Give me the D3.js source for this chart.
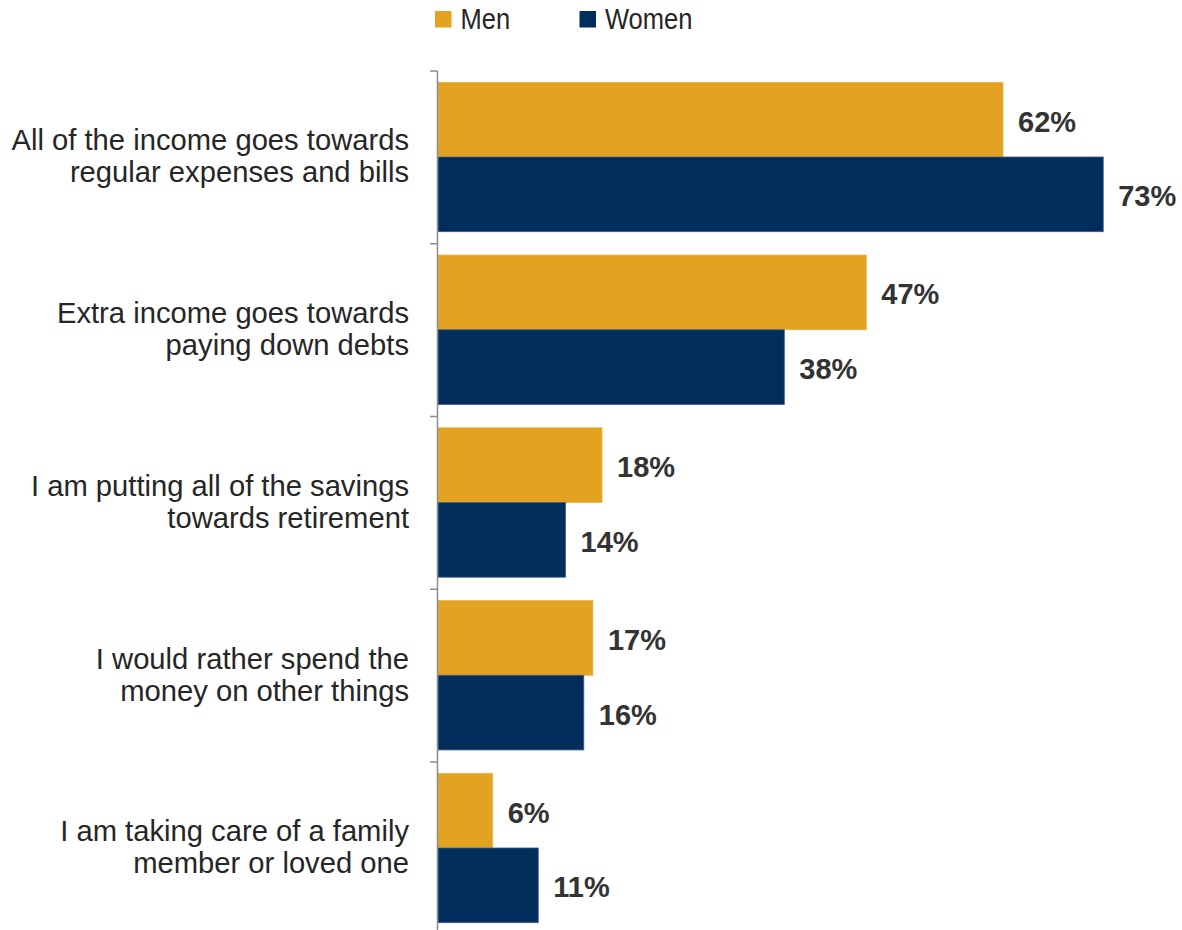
<!DOCTYPE html>
<html>
<head>
<meta charset="utf-8">
<script src="https://cdn.jsdelivr.net/npm/d3@7"></script>
<style>
  html, body { margin: 0; padding: 0; background: #fff; }
  svg { display: block; font-family: "Liberation Sans", Arial, sans-serif; }
</style>
</head>
<body>
<svg id="chart" width="1182" height="930"></svg>
<script>
const categories = [
  ["All of the income goes towards", "regular expenses and bills"],
  ["Extra income goes towards", "paying down debts"],
  ["I am putting all of the savings", "towards retirement"],
  ["I would rather spend the", "money on other things"],
  ["I am taking care of a family", "member or loved one"]
];
const seriesNames = ["Men", "Women"];
const menValues = [62, 47, 18, 17, 6];
const womenValues = [73, 38, 14, 16, 11];
const colors = ["#E3A21F", "#002D5C"];
const strokes = ["#E9B44A", "#3E5E84"];

const svg = d3.select("#chart");
const catKeys = categories.map((c, i) => i);
const x = d3.scaleLinear().domain([0, 80]).range([438, 438 + 80 * 9.113]);
const y = d3.scaleBand().domain(catKeys).range([71, 934.75]).padding(0);
const inner = d3.scaleBand().domain(seriesNames).range([11.3, 160.7]).padding(0);

const data = catKeys.map(i => ({
  cat: i,
  vals: [
    { s: "Men", v: menValues[i], k: 0 },
    { s: "Women", v: womenValues[i], k: 1 }
  ]
}));

// bars
const groups = svg.append("g").selectAll("g").data(data).join("g")
  .attr("transform", d => `translate(0,${y(d.cat)})`);

groups.selectAll("rect").data(d => d.vals).join("rect")
  .attr("x", x(0))
  .attr("y", d => inner(d.s))
  .attr("width", d => x(d.v) - x(0))
  .attr("height", inner.bandwidth())
  .attr("fill", d => colors[d.k])
  .attr("stroke", d => strokes[d.k])
  .attr("stroke-width", 0.8);

groups.selectAll("text.val").data(d => d.vals).join("text")
  .attr("class", "val")
  .attr("x", d => x(d.v) + 15)
  .attr("y", d => inner(d.s) + inner.bandwidth() / 2 + 12)
  .attr("font-size", 29)
  .attr("font-weight", "bold")
  .attr("fill", "#333333")
  .text(d => d.v + "%");

// axis
const axisG = svg.append("g").attr("stroke", "#8c8c8c").attr("stroke-width", 1.5);
axisG.append("line")
  .attr("x1", x(0) - 0.5).attr("x2", x(0) - 0.5)
  .attr("y1", y(0)).attr("y2", 934.75);
axisG.selectAll("line.tick").data(catKeys).join("line")
  .attr("class", "tick")
  .attr("x1", x(0) - 8).attr("x2", x(0) - 0.5)
  .attr("y1", d => y(d)).attr("y2", d => y(d));

// category labels
const labels = svg.append("g").selectAll("text").data(categories).join("text")
  .attr("text-anchor", "end")
  .attr("font-size", 29.2)
  .attr("fill", "#262626");
labels.each(function(lines, i) {
  const c = y(i) + y.bandwidth() / 2;
  d3.select(this).selectAll("tspan").data(lines).join("tspan")
    .attr("x", 409)
    .attr("y", (l, j) => c - 7 + j * 32)
    .text(l => l);
});

// legend
const legendX = [435, 579.5];
const leg = svg.append("g").selectAll("g").data(seriesNames).join("g")
  .attr("transform", (d, i) => `translate(${legendX[i]},0)`);
leg.append("rect")
  .attr("x", 0).attr("y", 11)
  .attr("width", 16.5).attr("height", 16.5)
  .attr("fill", (d, i) => colors[i]);
leg.append("text")
  .attr("transform", "translate(25.5,29) scale(0.88,1)")
  .attr("font-size", 29)
  .attr("fill", "#262626")
  .text(d => d);
</script>
</body>
</html>
